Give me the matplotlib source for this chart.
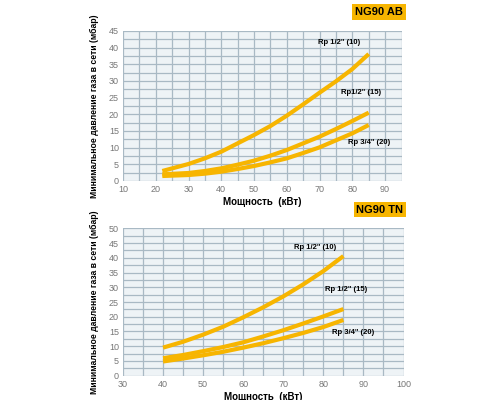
import matplotlib.pyplot as plt
from matplotlib.ticker import MultipleLocator

plt.rcParams['font.family'] = ['Liberation Sans', 'DejaVu Sans']

# NG90 AB
x_ab = [22, 30, 35, 40, 45, 50, 55, 60, 65, 70, 75, 80, 85]
ab_10 = [3.0, 5.1, 6.8, 8.8, 11.3, 13.8, 16.5, 19.6, 23.0, 26.5, 29.9, 33.6, 38.1]
ab_15 = [2.0, 2.4, 3.0, 3.8, 4.9, 6.1, 7.6, 9.3, 11.3, 13.3, 15.6, 18.0, 20.5]
ab_20 = [1.5, 1.8, 2.2, 2.8, 3.6, 4.5, 5.6, 6.8, 8.4, 10.1, 12.2, 14.3, 16.8]
ab_labels = ['Rp 1/2" (10)', 'Rp1/2" (15)', 'Rp 3/4" (20)']

# NG90 TN
x_tn = [40, 45, 50, 55, 60, 65, 70, 75, 80, 85]
tn_10 = [9.5, 11.5, 13.9, 16.6, 19.8, 23.2, 26.9, 31.0, 35.5, 40.6]
tn_15 = [5.9, 7.0, 8.3, 9.7, 11.3, 13.3, 15.4, 17.7, 20.1, 22.6]
tn_20 = [4.8, 5.8, 6.9, 8.1, 9.5, 11.0, 12.7, 14.5, 16.5, 18.9]
tn_labels = ['Rp 1/2" (10)', 'Rp 1/2" (15)', 'Rp 3/4" (20)']

yellow = '#F7B500'
bg = '#EEF3F6'
grid = '#A9B9C4'
tick_col = '#777777'

fig = plt.figure(figsize=(5, 4), dpi=100)
ax1 = fig.add_axes([0.246, 0.5475, 0.557, 0.375])
ax2 = fig.add_axes([0.246, 0.061, 0.561, 0.368])


def style(ax, xlim, ylim, ystep):
    ax.set_facecolor(bg)
    ax.set_xlim(*xlim)
    ax.set_ylim(*ylim)
    ax.xaxis.set_major_locator(MultipleLocator(10))
    ax.xaxis.set_minor_locator(MultipleLocator(5))
    ax.yaxis.set_major_locator(MultipleLocator(ystep))
    ax.yaxis.set_minor_locator(MultipleLocator(ystep / 2))
    ax.grid(True, which='both', color=grid, lw=0.9)
    ax.set_axisbelow(True)
    for s in ax.spines.values():
        s.set_visible(False)
    ax.tick_params(which='both', length=0, labelsize=6.5, labelcolor=tick_col, pad=3)
    ax.set_xlabel('Мощность  (кВт)', fontsize=7, fontweight='bold', labelpad=2)
    ax.set_ylabel('Минимальное давление газа в сети (мбар)', fontsize=6.2, fontweight='bold',
                  labelpad=7)


style(ax1, (10, 95), (0, 45), 5)
for ys in (ab_10, ab_15, ab_20):
    ax1.plot(x_ab, ys, color=yellow, lw=3.0, solid_capstyle='butt')
ax1.text(76.1, 41.5, ab_labels[0], fontsize=5.5, fontweight='bold', ha='center', va='center')
ax1.text(82.7, 26.5, ab_labels[1], fontsize=5.5, fontweight='bold', ha='center', va='center')
ax1.text(85.0, 11.5, ab_labels[2], fontsize=5.5, fontweight='bold', ha='center', va='center')

style(ax2, (30, 100), (0, 50), 5)
for ys in (tn_10, tn_15, tn_20):
    ax2.plot(x_tn, ys, color=yellow, lw=3.0, solid_capstyle='butt')
ax2.text(78.0, 43.5, tn_labels[0], fontsize=5.5, fontweight='bold', ha='center', va='center')
ax2.text(85.8, 29.4, tn_labels[1], fontsize=5.5, fontweight='bold', ha='center', va='center')
ax2.text(87.4, 14.6, tn_labels[2], fontsize=5.5, fontweight='bold', ha='center', va='center')

box = dict(boxstyle='square,pad=0.25', fc=yellow, ec='none')
fig.text(0.758, 0.97, 'NG90 AB', fontsize=8, fontweight='bold', ha='center', va='center', bbox=box)
fig.text(0.76, 0.476, 'NG90 TN', fontsize=8, fontweight='bold', ha='center', va='center', bbox=box)

fig.savefig('out.png', dpi=100)
